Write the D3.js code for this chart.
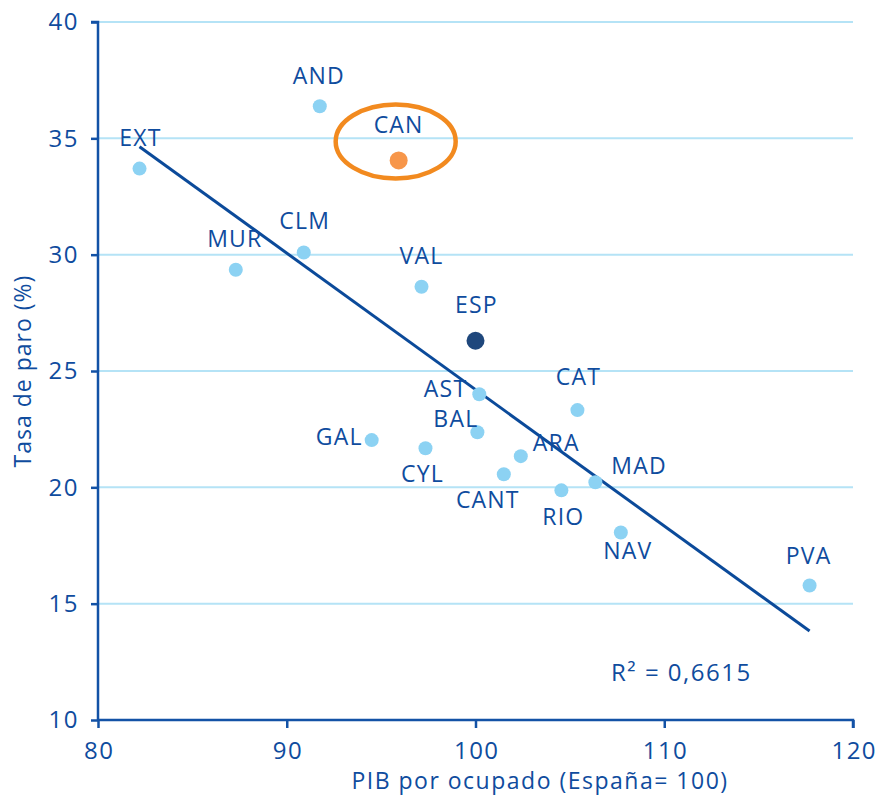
<!DOCTYPE html>
<html>
<head>
<meta charset="utf-8">
<script src="https://cdn.jsdelivr.net/npm/d3@7"></script>
<style>
  body { margin: 0; background: #fff; }
  svg text { font-family: "Open Sans", "Noto Sans", sans-serif; fill: #0f4c9e; }
</style>
</head>
<body>
<svg id="chart" width="880" height="795"></svg>
<script>
// regions: PIB por ocupado (España = 100) vs tasa de paro (%)
const regions = ['EXT', 'AND', 'CAN', 'CLM', 'MUR', 'VAL', 'AST', 'CAT', 'BAL', 'GAL', 'CYL', 'ARA', 'CANT', 'RIO', 'MAD', 'NAV', 'PVA'];
const pib = [82.2, 91.75, 95.93, 90.9, 87.3, 97.14, 100.2, 105.4, 100.1, 94.5, 97.35, 102.4, 101.5, 104.55, 106.35, 107.7, 117.7];
const paro = [33.7, 36.38, 34.05, 30.09, 29.35, 28.62, 24.0, 23.32, 22.37, 22.03, 21.68, 21.34, 20.56, 19.87, 20.22, 18.06, 15.78];
const espana = { name: 'ESP', pib: 100, paro: 26.3 };
const highlight = 'CAN';
const xTicks = [80, 90, 100, 110, 120];
const yTicks = [10, 15, 20, 25, 30, 35, 40];
const r2Label = 'R² = 0,6615';

// label placement (px, relative to point): [dx, dy, anchor]
const labelPos = {
  EXT: [1, -23, 'middle'], AND: [-1, -22, 'middle'], CAN: [0, -27, 'middle'],
  CLM: [1, -24, 'middle'], MUR: [-1, -23, 'middle'], VAL: [0, -23, 'middle'],
  ESP: [1, -28, 'middle'], AST: [-12, 3, 'end'], CAT: [1, -25, 'middle'],
  BAL: [1, -5, 'end'], GAL: [-9, 5, 'end'], CYL: [-3, 34, 'middle'],
  ARA: [12, -5, 'start'], CANT: [-16, 34, 'middle'], RIO: [2, 35, 'middle'],
  MAD: [16, -8, 'start'], NAV: [7, 27, 'middle'], PVA: [-1, -22, 'middle']
};

const blue = '#0f4c9e';
const svg = d3.select('#chart');
const x = d3.scaleLinear().domain([80, 120]).range([98, 853]);
const y = d3.scaleLinear().domain([10, 40]).range([720, 22]);

// grid
svg.append('g').selectAll('line').data(yTicks.filter(d => d > 10)).join('line')
  .attr('x1', x(80)).attr('x2', x(120))
  .attr('y1', d => y(d)).attr('y2', d => y(d))
  .attr('stroke', '#b5e3f6').attr('stroke-width', 2);

// axes
const yAxis = svg.append('g').attr('transform', `translate(${x(80)},0)`)
  .call(d3.axisLeft(y).tickValues(yTicks).tickSize(7).tickPadding(12));
const xAxis = svg.append('g').attr('transform', `translate(0,${y(10)})`)
  .call(d3.axisBottom(x).tickValues(xTicks).tickSize(8).tickPadding(14));
[xAxis, yAxis].forEach(a => {
  a.attr('font-size', 24).attr('font-family', null).style('letter-spacing', '1.5px');
  a.select('.domain').attr('stroke', '#1352a6').attr('stroke-width', 2.5);
  a.selectAll('.tick line').attr('stroke', '#1352a6').attr('stroke-width', 2.5);
  a.selectAll('.tick text').attr('fill', blue);
});
xAxis.selectAll('.tick text').attr('dx', '0.75px');
yAxis.select('.domain').attr('d', `M-7,${y(40)}H0V${y(10)}`);
xAxis.select('.domain').attr('d', `M${x(80)},0H${x(120)}V8`);

// trend line (least squares over regions)
const mx = d3.mean(pib), my = d3.mean(paro);
const slope = d3.sum(pib, (v, i) => (v - mx) * (paro[i] - my)) / d3.sum(pib, v => (v - mx) * (v - mx));
const icpt = my - slope * mx;
const x0 = d3.min(pib), x1 = d3.max(pib);
svg.append('line')
  .attr('x1', x(x0)).attr('y1', y(icpt + slope * x0))
  .attr('x2', x(x1)).attr('y2', y(icpt + slope * x1))
  .attr('stroke', '#0b4a9a').attr('stroke-width', 3);

// points
const pts = regions.map((name, i) => ({ name, pib: pib[i], paro: paro[i] }));
svg.append('g').selectAll('circle').data(pts).join('circle')
  .attr('cx', d => x(d.pib)).attr('cy', d => y(d.paro))
  .attr('r', d => d.name === highlight ? 9 : 7)
  .attr('fill', d => d.name === highlight ? '#f7964a' : '#8cd2f3');
svg.append('circle')
  .attr('cx', x(espana.pib)).attr('cy', y(espana.paro)).attr('r', 9)
  .attr('fill', '#1f477c');

// labels
svg.append('g').selectAll('text').data(pts.concat([espana])).join('text')
  .attr('x', d => x(d.pib) + labelPos[d.name][0])
  .attr('y', d => y(d.paro) + labelPos[d.name][1])
  .attr('text-anchor', d => labelPos[d.name][2])
  .attr('font-size', 23).style('letter-spacing', '1.2px')
  .text(d => d.name);

// highlight ellipse
const can = pts.find(d => d.name === highlight);
svg.append('ellipse')
  .attr('cx', x(can.pib) - 3).attr('cy', y(can.paro) - 19)
  .attr('rx', 60).attr('ry', 37)
  .attr('fill', 'none').attr('stroke', '#f28a1f').attr('stroke-width', 4.5);

// R²
svg.append('text').attr('x', 611).attr('y', 681).attr('font-size', 24)
  .style('letter-spacing', '1.5px').text(r2Label);

// axis titles
svg.append('text').attr('x', 540).attr('y', 789).attr('text-anchor', 'middle')
  .attr('font-size', 23).style('letter-spacing', '1.5px').text('PIB por ocupado (España= 100)');
svg.append('text').attr('transform', 'translate(31,371) rotate(-90)')
  .attr('text-anchor', 'middle').attr('font-size', 23).style('letter-spacing', '1px')
  .text('Tasa de paro (%)');
</script>
</body>
</html>
